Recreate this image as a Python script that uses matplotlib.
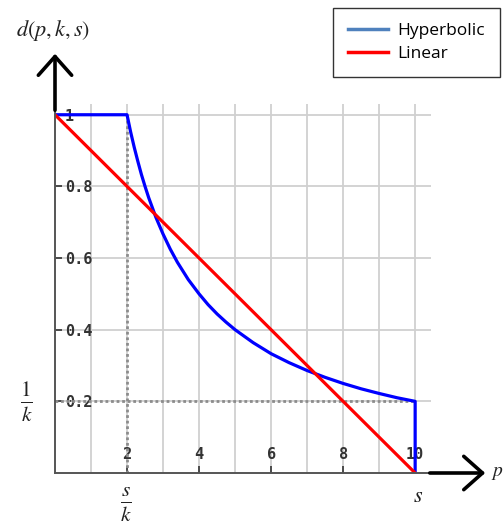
import numpy as np
import matplotlib.pyplot as plt
from matplotlib.patches import FancyArrowPatch
from matplotlib.lines import Line2D

plt.rcParams['mathtext.fontset'] = 'stix'

# distance to point p on a segment of length s, with factor k (s=10, k=5)
p_hyp = [0, 2, 2.1, 2.2, 2.3, 2.4, 2.5, 2.6, 2.8, 3, 3.2, 3.4, 3.7, 4, 4.25, 4.5, 4.75, 5,
         5.5, 6, 6.5, 7, 7.5, 8, 8.5, 9, 9.5, 10, 10]
d_hyp = [1, 1, 0.952, 0.909, 0.87, 0.833, 0.8, 0.769, 0.714, 0.667, 0.625, 0.588, 0.54, 0.5,
         0.47, 0.444, 0.421, 0.4, 0.364, 0.333, 0.308, 0.286, 0.267, 0.25, 0.235, 0.222, 0.21,
         0.2, 0]
p_lin = [0, 10]
d_lin = [1, 0]

s_over_k = 2
one_over_k = 0.2
s_val = 10

xticks = [2, 4, 6, 8, 10]
yticks = [0.2, 0.4, 0.6, 0.8, 1]
ytick_labels = ['0.2', '0.4', '0.6', '0.8', '1']

W, H = 504, 531
fig = plt.figure(figsize=(W / 100, H / 100), dpi=100)
ax = fig.add_axes([55 / W, (H - 473) / H, (431 - 55) / W, (473 - 104) / H])

ax.set_xlim(0, 10.44)
ax.set_ylim(0, 1.03)

# grid
ax.set_xticks(np.arange(1, 11, 2), minor=True)
ax.grid(True, which='both', axis='x', color='#d0d0d0', lw=1.3)
ax.grid(True, which='major', axis='y', color='#d0d0d0', lw=1.3)
ax.set_axisbelow(True)

# guide lines for s/k and 1/k
ax.plot([s_over_k, s_over_k], [0, 1], color='#8c8c8c', lw=2, ls=(0, (1, 1)))
ax.plot([0, s_val], [one_over_k, one_over_k], color='#8c8c8c', lw=2, ls=(0, (1, 1)))

ax.plot(p_hyp, d_hyp, color='#0000ff', lw=2.3)
ax.plot(p_lin, d_lin, color='#ff0000', lw=2.3)

for side in ['top', 'right']:
    ax.spines[side].set_visible(False)
for side in ['left', 'bottom']:
    ax.spines[side].set_color('#555555')
    ax.spines[side].set_linewidth(1.4)

ax.set_xticks(xticks)
ax.set_xticklabels([str(t) for t in xticks])
ax.set_yticks(yticks)
ax.set_yticklabels(ytick_labels)
ax.tick_params(axis='both', which='major', direction='in', length=5, width=1.2, color='#333333',
               labelsize=11)
ax.tick_params(axis='both', which='minor', length=0)
ax.tick_params(axis='y', pad=-7)
ax.tick_params(axis='x', pad=-8)
for lab in ax.get_yticklabels():
    lab.set_horizontalalignment('left')
    lab.set_fontfamily('DejaVu Sans Mono')
    lab.set_fontweight('bold')
    lab.set_color('#333333')
for lab in ax.get_xticklabels():
    lab.set_verticalalignment('bottom')
    lab.set_fontfamily('DejaVu Sans Mono')
    lab.set_fontweight('bold')
    lab.set_color('#333333')

# axis arrows
arr_kw = dict(arrowstyle='->,head_length=0.9,head_width=0.8', mutation_scale=15,
              lw=2.6, color='black', transform=None)
fig.add_artist(FancyArrowPatch((55, H - 113), (55, H - 51), **arr_kw))
fig.add_artist(FancyArrowPatch((427, H - 473), (488, H - 473), **arr_kw))

# labels
fig.text(53 / W, 1 - 31 / H, r'$d(p,k,s)$', fontsize=16, ha='center', va='center', color='#222222')
fig.text(26 / W, 1 - 402 / H, r'$\frac{1}{k}$', fontsize=22, ha='center', va='center', color='#222222')
fig.text(126 / W, 1 - 505 / H, r'$\frac{s}{k}$', fontsize=22, ha='center', va='center', color='#222222')
fig.text(418 / W, 1 - 496 / H, r'$s$', fontsize=16, ha='center', va='center', color='#222222')
fig.text(491 / W, 1 - 473 / H, r'$p$', fontsize=14, ha='left', va='center', color='#222222')

handles = [Line2D([], [], color='#4f81bd', lw=2.5), Line2D([], [], color='#ff0000', lw=2.5)]
leg = fig.legend(handles, ['Hyperbolic', 'Linear'], loc='upper left',
                 bbox_to_anchor=(333 / W, 1 - 8 / H), borderaxespad=0,
                 frameon=True, fancybox=False, edgecolor='black', handlelength=2.3,
                 labelspacing=0.4, borderpad=0.85, handletextpad=0.55,
                 prop={'family': 'Open Sans', 'size': 12.5})
leg.get_frame().set_linewidth(1.0)

fig.savefig('out.png', dpi=100)
